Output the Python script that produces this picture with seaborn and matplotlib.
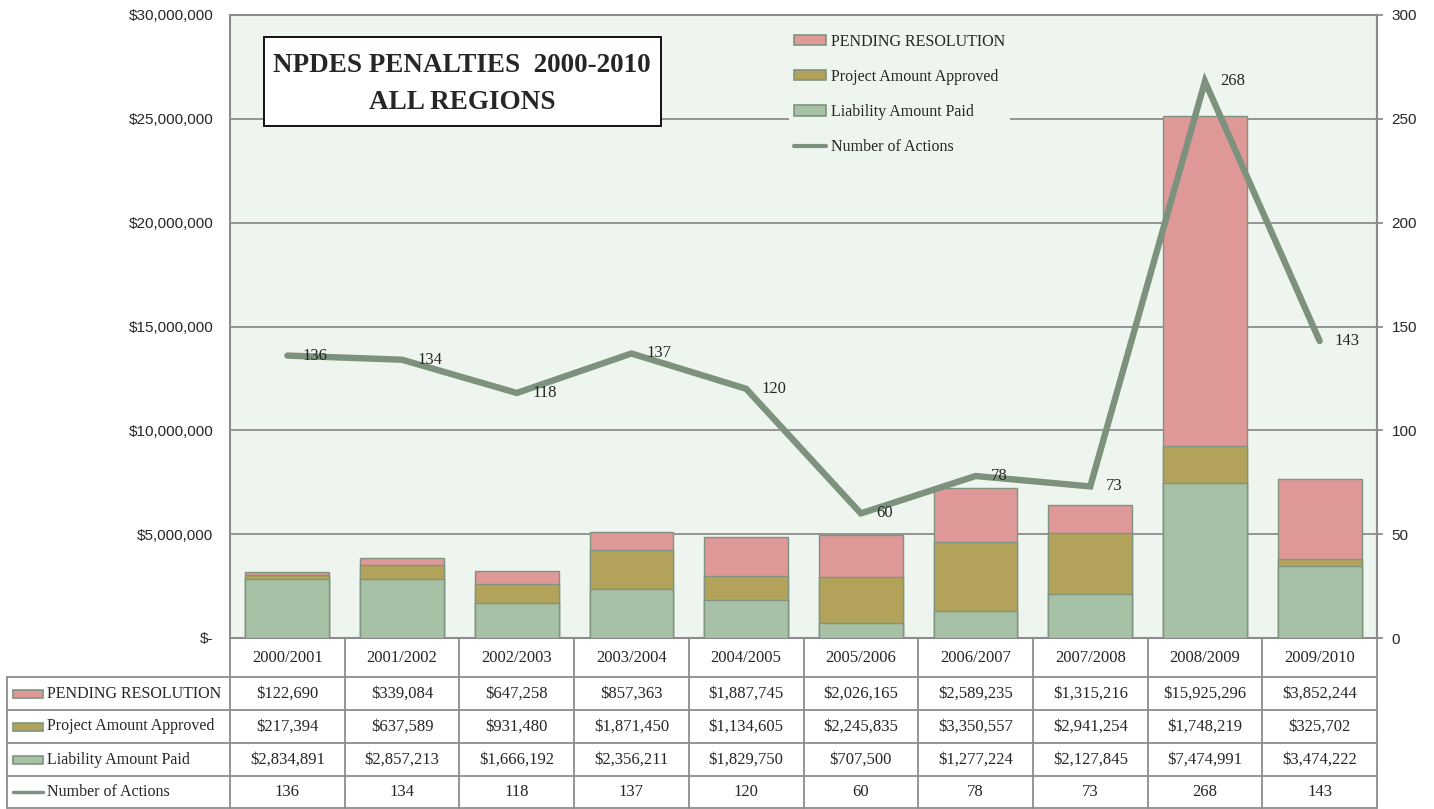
import matplotlib
matplotlib.use("Agg")
import matplotlib.pyplot as plt
import seaborn as sns
import pandas as pd
import numpy as np
from matplotlib.patches import Patch, Rectangle
from matplotlib.lines import Line2D
from matplotlib.transforms import blended_transform_factory
from matplotlib.ticker import FuncFormatter, MultipleLocator

seasons = ['2000/2001', '2001/2002', '2002/2003', '2003/2004', '2004/2005',
           '2005/2006', '2006/2007', '2007/2008', '2008/2009', '2009/2010']
pending = [122690, 339084, 647258, 857363, 1887745, 2026165, 2589235, 1315216, 15925296, 3852244]
project = [217394, 637589, 931480, 1871450, 1134605, 2245835, 3350557, 2941254, 1748219, 325702]
liability = [2834891, 2857213, 1666192, 2356211, 1829750, 707500, 1277224, 2127845, 7474991, 3474222]
actions = [136, 134, 118, 137, 120, 60, 78, 73, 268, 143]

series_names = ['PENDING RESOLUTION', 'Project Amount Approved', 'Liability Amount Paid', 'Number of Actions']

C_PEND = '#DE9898'
C_PROJ = '#B3A25A'
C_LIAB = '#A6C1A5'
C_LINE = '#7C927C'
C_EDGE = '#7F937F'
C_BG = '#EEF5EE'
C_GRID = '#8C8C8C'

df = pd.DataFrame({'season': seasons, 'pending': pending, 'project': project,
                   'liability': liability, 'actions': actions})
df['lp'] = df['liability'] + df['project']
df['total'] = df['lp'] + df['pending']

sns.set_style("white")
SERIF = ['Liberation Serif', 'DejaVu Serif']
SANS = ['Liberation Sans', 'DejaVu Sans']
plt.rcParams['font.family'] = SERIF

W, H = 1434, 809
fig = plt.figure(figsize=(W / 100, H / 100), dpi=100)
L, R, T, B = 230, 1377, 15, 638
ax = fig.add_axes([L / W, 1 - B / H, (R - L) / W, (B - T) / H])
ax.set_facecolor(C_BG)

# stacked bars drawn as layered cumulative totals
for col, color in [('total', C_PEND), ('lp', C_PROJ), ('liability', C_LIAB)]:
    sns.barplot(data=df, x='season', y=col, color=color, width=0.73,
                edgecolor=C_EDGE, linewidth=1.0, saturation=1, ax=ax, zorder=3)

ax.set_xlim(-0.5, 9.5)
ax.set_ylim(0, 30_000_000)
ax.yaxis.set_major_locator(MultipleLocator(5_000_000))
ax.yaxis.set_major_formatter(FuncFormatter(lambda v, p: '$-' if v == 0 else f'${v:,.0f}'))
ax.grid(axis='y', color=C_GRID, linewidth=1.3, zorder=0)
ax.set_axisbelow(True)
ax.set_xticks([])
ax.set_xlabel('')
ax.set_ylabel('')
ax.tick_params(axis='y', length=0, pad=12, labelsize=11)
for lab in ax.get_yticklabels():
    lab.set_family(SANS)
for s in ax.spines.values():
    s.set_color(C_GRID)
    s.set_linewidth(1.5)

# number of actions on the secondary axis
ax2 = ax.twinx()
sns.lineplot(x=np.arange(len(seasons)), y=actions, color=C_LINE, linewidth=4.6,
             solid_capstyle='round', solid_joinstyle='miter', ax=ax2, zorder=5)
ax2.set_ylim(0, 300)
ax2.yaxis.set_major_locator(MultipleLocator(50))
ax2.tick_params(axis='y', length=4.5, width=1.3, color=C_GRID, pad=6, labelsize=11)
for lab in ax2.get_yticklabels():
    lab.set_family(SANS)
for s in ax2.spines.values():
    s.set_visible(False)
ax2.spines['right'].set_visible(True)
ax2.spines['right'].set_color(C_GRID)
ax2.spines['right'].set_linewidth(1.5)
for i, v in enumerate(actions):
    ax2.annotate(str(v), (i, v), xytext=(11, 0), textcoords='offset points',
                 ha='left', va='center', fontsize=12, family=SERIF, zorder=6)

# title box
fig.patches.append(Rectangle((264 / W, 1 - 126 / H), 397 / W, 89 / H, transform=fig.transFigure,
                             facecolor='white', edgecolor='black', linewidth=1.3, zorder=4))
fig.text(462 / W, 1 - 84 / H, 'NPDES PENALTIES  2000-2010\nALL REGIONS', ha='center', va='center',
         fontsize=19.5, fontweight='bold', family=SERIF, linespacing=1.65, zorder=5)

# legend
handles = [Patch(facecolor=C_PEND, edgecolor=C_EDGE, linewidth=1.2),
           Patch(facecolor=C_PROJ, edgecolor=C_EDGE, linewidth=1.2),
           Patch(facecolor=C_LIAB, edgecolor=C_EDGE, linewidth=1.2),
           Line2D([], [], color=C_LINE, linewidth=3)]
leg = ax2.legend(handles, series_names, loc='upper left', bbox_to_anchor=(781 / W, 1 - 21 / H),
                 bbox_transform=fig.transFigure, frameon=True, facecolor=C_BG, edgecolor='none',
                 fancybox=False, framealpha=1, prop={'family': SERIF, 'size': 11.5},
                 handlelength=2.0, handleheight=0.6, handletextpad=0.35, labelspacing=1.2,
                 borderpad=0.3)

# data table below the plot
tr = blended_transform_factory(ax.transData, fig.transFigure)
rows_px = [677, 710, 743, 776, 808]
fy = lambda px: 1 - px / H
px_per_cat = (R - L) / len(seasons)
left_edge = -0.5 - (L - 7) / px_per_cat
line_kw = dict(color=C_GRID, linewidth=1.3, transform=tr, clip_on=False)
for k in range(len(seasons) + 1):
    ax.add_line(Line2D([k - 0.5, k - 0.5], [fy(B), fy(rows_px[-1])], **line_kw))
ax.add_line(Line2D([left_edge, left_edge], [fy(rows_px[0]), fy(rows_px[-1])], **line_kw))
for ypx in rows_px:
    ax.add_line(Line2D([left_edge, 9.5], [fy(ypx), fy(ypx)], **line_kw))

txt_kw = dict(transform=tr, ha='center', va='center', fontsize=12, family=SERIF, clip_on=False)
for i, s in enumerate(seasons):
    ax.text(i, fy((B + rows_px[0]) / 2), s, **txt_kw)
table_rows = [[f'${v:,}' for v in pending], [f'${v:,}' for v in project],
              [f'${v:,}' for v in liability], [str(v) for v in actions]]
for r, vals in enumerate(table_rows):
    yc = fy((rows_px[r] + rows_px[r + 1]) / 2)
    for i, v in enumerate(vals):
        ax.text(i, yc, v, **txt_kw)
    ax.text(left_edge + 40 / px_per_cat, yc, series_names[r], transform=tr, ha='left', va='center',
            fontsize=11.5, family=SERIF, clip_on=False)
    x0 = left_edge + 6 / px_per_cat
    sw = 30 / px_per_cat
    if r < 3:
        ax.add_patch(Rectangle((x0, yc - 4 / H), sw, 8 / H, facecolor=[C_PEND, C_PROJ, C_LIAB][r],
                               edgecolor=C_EDGE, linewidth=1.2, transform=tr, clip_on=False))
    else:
        ax.add_line(Line2D([x0, x0 + sw], [yc, yc], color=C_LINE, linewidth=2.5, transform=tr, clip_on=False))

fig.savefig('out.png', dpi=100)
